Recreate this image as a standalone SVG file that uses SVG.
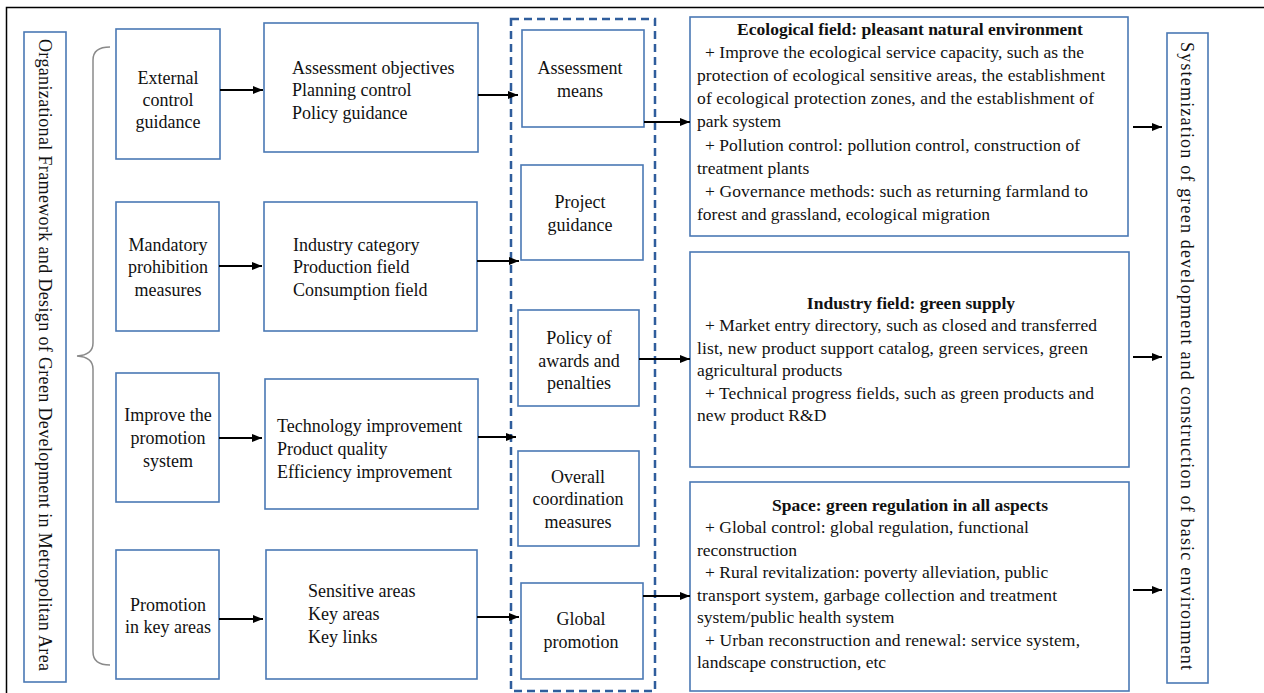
<svg xmlns="http://www.w3.org/2000/svg" width="1264" height="693" viewBox="0 0 1264 693">
<style>
.box{fill:#fff;stroke:#4a78b4;stroke-width:1.6}
text{font-family:'Liberation Serif','Times New Roman','DejaVu Serif',serif;fill:#111}
.t{font-size:18px}
.r{font-size:17.5px}
.b{font-weight:bold}
.c{text-anchor:middle}
.arr{stroke:#000;stroke-width:2;fill:none;marker-end:url(#ah)}
</style>
<defs>
<marker id="ah" markerUnits="userSpaceOnUse" markerWidth="10" markerHeight="10" viewBox="0 0 10 10" refX="10" refY="5" orient="auto">
<path d="M0,1 L10,5 L0,9 Z" fill="#000"/>
</marker>
</defs>
<rect width="1264" height="693" fill="#fff"/>
<g id="frame" fill="none" stroke="#000" stroke-width="1.5">
<path d="M6.5,693 L6.5,7.5 L1264,7.5"/>
</g>

<g id="title-left">
<rect class="box" x="24" y="32" width="42" height="650"/>
<text class="t c" transform="translate(39,355) rotate(90)" textLength="632" lengthAdjust="spacing">Organizational Framework and Design of Green Development in Metropolitan Area</text>
</g>

<g id="brace">
<path d="M110,47 Q93,47 93,60 L93,343 Q93,355 77,356 Q93,357 93,369 L93,652 Q93,665 110,665" fill="none" stroke="#8a8a8a" stroke-width="1.5"/>
</g>

<g id="n-external">
<rect class="box" x="116" y="29" width="104" height="130"/>
<text class="t c" x="168" y="84">External</text>
<text class="t c" x="168" y="106">control</text>
<text class="t c" x="168" y="128">guidance</text>
</g>
<g id="n-mandatory">
<rect class="box" x="116" y="202" width="103" height="129"/>
<text class="t c" x="168" y="251">Mandatory</text>
<text class="t c" x="168" y="273">prohibition</text>
<text class="t c" x="168" y="296">measures</text>
</g>
<g id="n-improve">
<rect class="box" x="116" y="373" width="103" height="129"/>
<text class="t c" x="168" y="421">Improve the</text>
<text class="t c" x="168" y="444">promotion</text>
<text class="t c" x="168" y="467">system</text>
</g>
<g id="n-promotion">
<rect class="box" x="116" y="550" width="103" height="129"/>
<text class="t c" x="168" y="611">Promotion</text>
<text class="t c" x="168" y="633">in key areas</text>
</g>

<g id="n-assess-obj">
<rect class="box" x="264" y="23" width="214" height="129"/>
<text class="t" x="292" y="74">Assessment objectives</text>
<text class="t" x="292" y="96">Planning control</text>
<text class="t" x="292" y="119">Policy guidance</text>
</g>
<g id="n-industry-cat">
<rect class="box" x="264" y="202" width="213" height="129"/>
<text class="t" x="293" y="251">Industry category</text>
<text class="t" x="293" y="273">Production field</text>
<text class="t" x="293" y="296">Consumption field</text>
</g>
<g id="n-tech">
<rect class="box" x="265" y="379" width="213" height="130"/>
<text class="t" x="277" y="432">Technology improvement</text>
<text class="t" x="277" y="455">Product quality</text>
<text class="t" x="277" y="478">Efficiency improvement</text>
</g>
<g id="n-sensitive">
<rect class="box" x="266" y="550" width="211" height="129"/>
<text class="t" x="308" y="597">Sensitive areas</text>
<text class="t" x="308" y="620">Key areas</text>
<text class="t" x="308" y="643">Key links</text>
</g>

<g id="dashed-group">
<rect x="511" y="19" width="144" height="672" fill="none" stroke="#2f5d9c" stroke-width="2.5" stroke-dasharray="8,5"/>
</g>
<g id="n-assess-means">
<rect class="box" x="522" y="30" width="122" height="97"/>
<text class="t c" x="580" y="74">Assessment</text>
<text class="t c" x="580" y="97">means</text>
</g>
<g id="n-project">
<rect class="box" x="521" y="165" width="122" height="95"/>
<text class="t c" x="580" y="208">Project</text>
<text class="t c" x="580" y="231">guidance</text>
</g>
<g id="n-policy">
<rect class="box" x="518" y="310" width="121" height="96"/>
<text class="t c" x="579" y="344">Policy of</text>
<text class="t c" x="579" y="367">awards and</text>
<text class="t c" x="579" y="389">penalties</text>
</g>
<g id="n-overall">
<rect class="box" x="518" y="451" width="121" height="95"/>
<text class="t c" x="578" y="483">Overall</text>
<text class="t c" x="578" y="505">coordination</text>
<text class="t c" x="578" y="528">measures</text>
</g>
<g id="n-global">
<rect class="box" x="521" y="583" width="122" height="96"/>
<text class="t c" x="581" y="625">Global</text>
<text class="t c" x="581" y="648">promotion</text>
</g>

<g id="n-ecological">
<rect class="box" x="690" y="17" width="438" height="219"/>
<text class="r b c" x="910" y="35">Ecological field: pleasant natural environment</text>
<text class="r" x="705" y="58" textLength="379" lengthAdjust="spacing">+ Improve the ecological service capacity, such as the</text>
<text class="r" x="697" y="81" textLength="408" lengthAdjust="spacing">protection of ecological sensitive areas, the establishment</text>
<text class="r" x="697" y="104" textLength="397" lengthAdjust="spacing">of ecological protection zones, and the establishment of</text>
<text class="r" x="697" y="127">park system</text>
<text class="r" x="705" y="151" textLength="375" lengthAdjust="spacing">+ Pollution control: pollution control, construction of</text>
<text class="r" x="697" y="174">treatment plants</text>
<text class="r" x="705" y="197" textLength="383" lengthAdjust="spacing">+ Governance methods: such as returning farmland to</text>
<text class="r" x="697" y="220">forest and grassland, ecological migration</text>
</g>
<g id="n-industry">
<rect class="box" x="690" y="252" width="439" height="215"/>
<text class="r b c" x="911" y="309">Industry field: green supply</text>
<text class="r" x="705" y="331" textLength="392" lengthAdjust="spacing">+ Market entry directory, such as closed and transferred</text>
<text class="r" x="697" y="354" textLength="391" lengthAdjust="spacing">list, new product support catalog, green services, green</text>
<text class="r" x="697" y="376">agricultural products</text>
<text class="r" x="705" y="399" textLength="389" lengthAdjust="spacing">+ Technical progress fields, such as green products and</text>
<text class="r" x="697" y="421">new product R&amp;D</text>
</g>
<g id="n-space">
<rect class="box" x="690" y="482" width="439" height="209"/>
<text class="r b c" x="910" y="511">Space: green regulation in all aspects</text>
<text class="r" x="705" y="533">+ Global control: global regulation, functional</text>
<text class="r" x="697" y="556">reconstruction</text>
<text class="r" x="705" y="578">+ Rural revitalization: poverty alleviation, public</text>
<text class="r" x="697" y="601" textLength="360" lengthAdjust="spacing">transport system, garbage collection and treatment</text>
<text class="r" x="697" y="623">system/public health system</text>
<text class="r" x="705" y="646" textLength="375" lengthAdjust="spacing">+ Urban reconstruction and renewal: service system,</text>
<text class="r" x="697" y="668">landscape construction, etc</text>
</g>

<g id="title-right">
<rect class="box" x="1167" y="33" width="41" height="650"/>
<text class="t c" transform="translate(1181,356) rotate(90)" textLength="628" lengthAdjust="spacing">Systemization of green development and construction of basic environment</text>
</g>

<g id="connectors">
<line class="arr" x1="220" y1="90" x2="263" y2="90"/>
<line class="arr" x1="219" y1="266" x2="262" y2="266"/>
<line class="arr" x1="219" y1="438" x2="262" y2="438"/>
<line class="arr" x1="219" y1="619" x2="263" y2="619"/>
<line class="arr" x1="478" y1="95" x2="518" y2="95"/>
<line class="arr" x1="477" y1="261" x2="519" y2="261"/>
<line class="arr" x1="478" y1="437" x2="516" y2="437"/>
<line class="arr" x1="477" y1="617" x2="519" y2="617"/>
<line class="arr" x1="644" y1="122" x2="690" y2="122"/>
<line class="arr" x1="639" y1="359" x2="690" y2="359"/>
<line class="arr" x1="643" y1="596" x2="690" y2="596"/>
<line class="arr" x1="1133" y1="127" x2="1162" y2="127"/>
<line class="arr" x1="1133" y1="357" x2="1162" y2="357"/>
<line class="arr" x1="1133" y1="590" x2="1162" y2="590"/>
</g>
</svg>
